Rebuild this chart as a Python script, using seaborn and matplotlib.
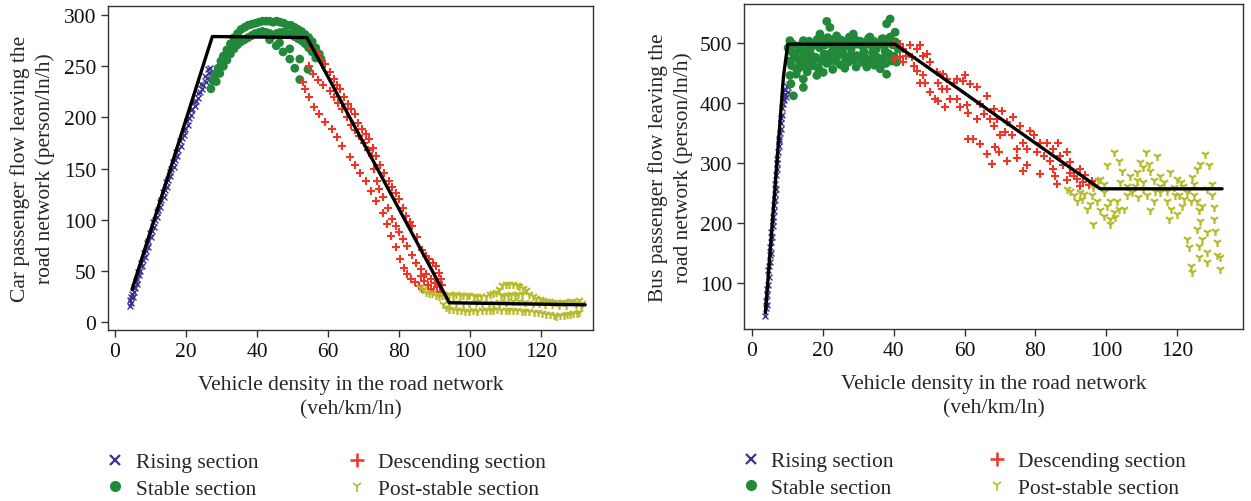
import matplotlib
matplotlib.use("Agg")
import matplotlib.pyplot as plt
from matplotlib.lines import Line2D
import seaborn as sns
import pandas as pd

# ---------------- Car panel data ----------------
car_rise_x = [4.1, 4.3, 4.5, 4.6, 4.8, 5.0, 5.3, 5.4, 5.6, 5.9, 6.1, 6.3, 6.6, 6.8, 7.0, 7.4, 7.6,
              7.8, 8.2, 8.4, 8.6, 9.0, 9.2, 9.4, 9.9, 10.1, 10.3, 10.8, 11.0, 11.2, 11.7, 11.9,
              12.1, 12.6, 12.8, 13.0, 13.5, 13.7, 14.0, 14.4, 14.6, 14.9, 15.4, 15.6, 15.9,
              16.3, 16.5, 16.8, 17.3, 17.5, 17.8, 18.3, 18.5, 18.8, 19.3, 19.5, 19.8, 20.3,
              20.5, 20.8, 21.3, 21.5, 21.8, 22.3, 22.5, 22.8, 23.3, 23.5, 23.8, 24.3, 24.5,
              24.8, 25.3, 25.5, 25.8, 26.3, 26.5, 26.8]
car_rise_y = [16, 22, 19, 25, 28, 25, 34, 30, 33, 40, 37, 42, 49, 46, 50, 58, 55, 61, 68, 64, 70,
              77, 73, 79, 87, 83, 89, 98, 93, 100, 108, 103, 110, 117, 113, 119, 127, 122, 129,
              137, 132, 139, 147, 143, 150, 156, 152, 158, 166, 162, 168, 177, 172, 180, 187,
              183, 189, 197, 193, 199, 207, 202, 208, 215, 211, 216, 224, 219, 225, 233, 228,
              232, 240, 235, 239, 247, 243, 248]

car_stable_x = [27.0, 27.5, 28.2, 29.0, 29.8, 30.5, 31.5, 32.5, 33.5, 34.5, 35.5, 36.5, 37.5,
                38.5, 39.5, 40.5, 41.5, 42.5, 43.5, 44.5, 45.5, 46.5, 47.5, 48.5, 49.5, 50.5,
                51.5, 52.5, 53.5, 54.5, 55.5, 56.5, 57.5, 58.0,
                28.5, 29.5, 30.5, 31.5, 32.5, 33.5, 34.5, 35.5, 36.5, 37.5, 38.5, 39.5, 40.5,
                41.5, 42.5, 43.5, 44.5, 45.5, 46.5, 47.5, 48.5, 49.5, 50.5, 51.5, 52.5, 53.5,
                54.5, 55.5, 56.5,
                43.5, 45.4, 47.3, 49.2, 50.6, 52.0, 46.3, 49.2, 52.0, 54.3]
car_stable_y = [228, 236, 242, 248, 255, 260, 266, 272, 278, 282, 286, 288, 290, 291, 292, 293,
                294, 294, 294, 293, 294, 293, 292, 290, 290, 288, 286, 284, 281, 278, 274, 268,
                262, 257,
                235, 243, 250, 256, 262, 267, 271, 274, 276, 278, 280, 282, 283, 284, 283, 282,
                280, 282, 283, 283, 282, 281, 279, 277, 275, 272, 268, 264, 258,
                276, 270, 264, 257, 248, 237, 273, 267, 257, 247]

car_desc_x = [55.5, 57.0, 58.0, 59.0, 60.5, 61.5, 62.5, 63.2, 64.5, 65.5, 66.5, 67.4, 68.5,
              69.5, 70.5, 71.6, 72.5, 73.5, 74.5, 75.8, 77.0, 78.0, 79.0, 80.0, 81.0, 82.0,
              83.0, 83.7, 85.0, 86.5, 87.5, 88.5, 89.5, 90.4, 91.2, 91.8,
              54.5, 55.6, 57.0, 58.5, 60.4, 61.5, 62.7, 64.0, 65.3, 66.5, 67.6, 68.8, 70.0,
              71.2, 72.2, 73.0, 73.8, 74.4, 75.5, 76.8, 78.0, 79.0, 80.0, 81.0, 82.2, 83.5,
              84.8, 86.0, 87.5, 89.0, 90.0,
              52.8, 53.4, 54.5, 56.0, 57.5, 59.0, 61.0, 62.5, 64.0, 66.0, 67.5, 69.0, 70.7,
              72.0, 73.5, 75.3, 76.5, 77.8, 79.0, 80.2, 81.3, 82.3, 83.3, 84.3, 85.5, 86.5,
              86.0, 87.0, 88.0, 88.8, 89.5, 90.5, 91.5, 92.0]
car_desc_y = [268, 262, 256, 252, 244, 238, 232, 228, 220, 213, 208, 203, 195, 189, 184, 179,
              170, 162, 154, 146, 138, 132, 126, 120, 112, 104, 98, 94, 83, 71, 65, 62, 58,
              55, 48, 42,
              250, 242, 237, 232, 226, 220, 214, 208, 200, 193, 188, 182, 175, 168, 162, 150,
              138, 130, 122, 112, 101, 94, 88, 81, 74, 66, 58, 52, 47, 42, 38,
              235, 228, 220, 210, 203, 196, 189, 181, 172, 161, 154, 146, 138, 128, 118, 107,
              96, 84, 73, 62, 53, 47, 42, 39, 35, 32,
              45, 40, 36, 32, 30, 34, 30, 36]

car_post_x = [85.7, 86.6, 87.6, 88.5, 89.3, 90.2, 91.3, 92.0, 93.0, 94.1, 95.0, 96.0, 97.0,
              98.0, 99.0, 99.7, 101.0, 102.0, 103.0, 104.4, 105.5, 106.5, 107.3, 108.1,
              109.0, 110.0, 111.0, 112.0, 113.0, 113.8, 114.8, 115.7, 116.6, 117.5, 118.5,
              119.5, 120.4, 121.3, 122.2, 123.2, 124.2, 125.0, 126.0, 127.0, 128.0, 128.7,
              129.6, 130.5, 131.5,
              92.2, 93.1, 94.1, 95.1, 96.2, 97.3, 98.4, 99.7, 100.8, 102.0, 103.2, 104.4,
              105.5, 106.3, 107.5, 108.7, 110.0, 111.0, 112.0, 113.2, 114.4, 115.5, 116.6,
              117.8, 119.0, 120.2, 121.3, 122.4, 123.5, 124.2, 125.3, 126.4, 127.2, 128.0,
              129.0, 130.0, 130.7,
              94.1, 96.0, 97.8, 99.7, 101.5, 103.4, 105.2, 106.3, 108.0, 110.0, 112.0,
              113.6, 115.4, 117.5, 119.2, 121.0, 123.0, 125.0, 127.0, 129.6, 131.2,
              108.5, 109.5, 110.5, 111.5, 112.5, 113.5, 114.5]
car_post_y = [34, 32, 30, 29, 29, 27, 26, 27, 27, 28, 27, 28, 27, 27, 27, 27, 26, 26, 26, 26,
              28, 29, 30, 32, 36, 37, 37, 37, 36, 35, 33, 31, 28, 26, 24, 23, 22, 21, 21, 20,
              20, 19, 20, 20, 21, 21, 20, 22, 19,
              18, 15, 13, 13, 12, 12, 11, 11, 12, 11, 12, 12, 12, 12, 13, 12, 12, 12, 12, 12,
              11, 11, 11, 10, 10, 9, 8, 8, 7, 6, 7, 7, 8, 8, 9, 9, 10,
              19, 20, 19, 19, 20, 19, 19, 19, 20, 20, 21, 21, 20, 19, 19, 18, 18, 17, 17, 18, 17,
              27, 26, 27, 28, 27, 28, 28]

car_fit_x = [4.8, 27.4, 54.0, 94.1, 132.3]
car_fit_y = [32, 279, 278, 19, 17]

# ---------------- Bus panel data ----------------
bus_rise_x = [3.7, 3.9, 4.0, 4.2, 4.3, 4.1, 4.5, 4.7, 4.6, 4.9, 5.1, 5.0, 5.3, 5.2, 5.5, 5.6,
              5.4, 5.8, 5.9, 6.0, 6.2, 6.1, 6.4, 6.5, 6.7, 6.6, 6.9, 7.0, 7.2, 7.1, 7.4, 7.6,
              7.7, 7.5, 7.9, 8.1, 8.3, 8.2, 8.5, 8.6, 8.8, 8.7, 9.0, 9.2, 9.4, 9.7, 9.9, 10.2,
              10.4]
bus_rise_y = [45, 58, 70, 64, 80, 90, 97, 110, 122, 129, 135, 146, 150, 160, 168, 176, 185,
              195, 203, 210, 220, 230, 238, 248, 257, 265, 280, 290, 300, 306, 318, 328, 340,
              336, 350, 356, 366, 375, 380, 392, 398, 408, 405, 415, 422, 410, 428, 418, 432]

bus_stable_x = [21.1, 22.0, 38.0, 39.0, 40.4, 19.2, 23.9, 28.6, 33.3, 37.1, 10.7, 14.5,
                10.7, 14.5, 11.7, 14.5, 18.3, 20.1, 27.7, 32.4, 36.2, 38.0, 35.2, 29.6,
                10.2, 10.9, 11.5, 12.3, 13.0, 13.8, 14.6, 15.3, 16.1, 16.9, 17.6, 18.4, 19.1,
                19.9, 20.7, 21.4, 22.2, 23.0, 23.7, 24.5, 25.2, 26.0, 26.8, 27.5, 28.3, 29.1,
                29.8, 30.6, 31.3, 32.1, 32.9, 33.6, 34.4, 35.1, 35.9, 36.7, 37.4, 38.2, 39.0,
                39.7, 40.5, 41.3,
                10.4, 11.2, 12.0, 12.7, 13.5, 14.2, 15.0, 15.8, 16.5, 17.3, 18.0, 18.8, 19.6,
                20.3, 21.1, 21.8, 22.6, 23.4, 24.1, 24.9, 25.6, 26.4, 27.2, 27.9, 28.7, 29.4,
                30.2, 31.0, 31.7, 32.5, 33.2, 34.0, 34.8, 35.5, 36.3, 37.0, 37.8, 38.6, 39.3,
                40.1, 40.8,
                11.0, 12.5, 13.2, 15.6, 17.0, 18.9, 21.5, 24.4, 26.2, 30.8, 34.6, 37.6, 39.5,
                12.0, 16.2, 22.8, 25.5, 31.6, 13.6, 17.8, 20.5, 28.0]
bus_stable_y = [536, 526, 532, 540, 518, 515, 512, 515, 510, 507, 504, 504,
                446, 440, 412, 426, 446, 451, 473, 460, 457, 448, 468, 479,
                492, 486, 498, 483, 495, 489, 500, 486, 503, 494, 499, 506, 492, 505, 497,
                509, 500, 494, 508, 499, 505, 496, 502, 510, 499, 506, 498, 503, 494, 501,
                508, 496, 503, 490, 499, 507, 495, 503, 510, 497, 502, 490,
                470, 462, 478, 455, 468, 475, 460, 472, 482, 465, 476, 458, 470, 481, 466,
                474, 486, 470, 478, 464, 484, 474, 468, 480, 472, 460, 476, 468, 478, 462,
                472, 484, 470, 476, 462, 474, 466, 482, 470, 478, 468,
                432, 448, 458, 452, 462, 455, 468, 488, 458, 478, 463, 486, 472,
                475, 490, 456, 490, 486, 465, 476, 482, 490]

bus_desc_x = [41.8, 44.6, 47.5, 49.3, 40.0, 42.7, 45.6, 46.5, 50.3, 48.4, 47.5, 50.3, 52.2,
              54.0, 55.0, 56.9, 57.8, 52.6, 54.5, 60.2, 61.6, 58.7, 60.6, 61.1, 63.5, 66.3,
              64.4, 65.4, 63.5, 68.2, 70.5, 69.1, 67.2, 68.2, 72.0, 73.8, 71.5, 73.4, 70.0,
              75.7, 78.5, 79.5, 76.6, 74.8, 77.6, 81.4, 83.2, 86.5, 80.4, 85.1, 82.3, 84.2,
              87.0, 88.9, 89.8, 87.9, 85.1, 85.6, 81.4, 77.6, 76.6, 74.8, 91.7, 90.8, 88.9,
              89.8, 92.6, 86.0,
              61.1, 62.5, 64.4, 66.3, 67.7, 68.6, 72.0, 69.7,
              40.0, 42.7, 46.5, 48.4, 43.6, 41.8, 45.1, 52.6, 55.0, 57.8, 59.7, 48.9, 51.7,
              55.9, 53.5,
              93.5, 95.0, 96.0, 94.0, 92.5, 96.5]
bus_desc_y = [498, 496, 496, 482, 473, 468, 462, 454, 468, 446, 434, 418, 451, 448, 423, 434,
              407, 404, 393, 446, 432, 393, 396, 384, 426, 412, 398, 382, 373, 390, 387, 373,
              373, 362, 368, 376, 351, 346, 346, 362, 354, 346, 334, 323, 323, 334, 334, 334,
              318, 323, 312, 304, 312, 318, 301, 296, 290, 279, 282, 296, 287, 309, 273, 279,
              271, 284, 262, 265,
              340, 340, 332, 315, 298, 326, 304, 318,
              498, 490, 490, 479, 479, 476, 476, 434, 440, 440, 437, 434, 407, 407, 423,
              268, 264, 270, 280, 290, 262]

bus_post_x = [89.8, 92.6, 93.1, 94.6, 96.4, 95.9, 97.3, 98.3, 99.3, 100.2, 101.1, 102.1,
              103.0, 102.5, 100.2, 102.1, 103.5, 104.4, 105.8, 104.9, 106.8, 108.2, 108.7,
              109.6, 110.5, 112.0, 112.4, 111.1, 114.3, 113.4, 110.5, 115.3, 113.4, 112.4,
              116.3, 117.2, 118.2, 117.7, 119.5, 120.0, 121.0, 121.4, 122.8, 123.8, 124.7,
              125.7, 126.6, 128.0, 128.9, 126.2, 126.6, 125.7, 122.8, 123.3, 126.2, 128.5,
              127.1, 126.2, 123.8, 124.2, 128.5, 131.3, 132.2, 128.5, 130.8, 130.3, 130.3,
              129.9, 132.0, 131.3,
              103.9, 105.8, 107.3, 109.1, 111.5, 113.8, 115.3, 117.2, 119.0, 120.4, 121.9,
              123.3, 124.7, 125.7, 127.0, 128.5, 129.9, 108.7, 110.5, 115.3, 118.1, 120.0,
              121.8, 124.2,
              90.8, 91.7, 93.6, 95.5, 98.3, 99.3, 101.1, 103.5, 96.4, 97.8, 101.1, 88.9,
              99.3]
bus_post_y = [254, 251, 240, 223, 198, 246, 237, 273, 251, 229, 198, 218, 237, 210, 296, 318,
              304, 287, 246, 223, 279, 262, 285, 301, 293, 298, 287, 318, 312, 271, 257, 251,
              237, 221, 268, 237, 223, 207, 246, 215, 268, 229, 251, 237, 265, 290, 298, 315,
              296, 221, 204, 190, 173, 160, 162, 185, 173, 143, 129, 118, 135, 146, 143, 151,
              187, 207, 226, 246, 123, 168,
              268, 262, 251, 243, 246, 254, 262, 254, 260, 246, 240, 257, 246, 237, 229, 257,
              265, 271, 268, 279, 285, 273, 262, 276,
              246, 237, 248, 232, 221, 212, 207, 223, 260, 271, 237, 257, 265]

bus_fit_x = [3.8, 8.9, 10.1, 40.4, 98.3, 132.7]
bus_fit_y = [50, 445, 498, 498, 257, 257]

# ---------------- Styling ----------------
sections = ["Rising section", "Stable section", "Descending section", "Post-stable section"]
colors = {"Rising section": "#3b3293", "Stable section": "#23893a",
          "Descending section": "#ee3526", "Post-stable section": "#b6bb2c"}

FS = 15.5

sns.set_style("ticks")
plt.rcParams["font.family"] = ["Liberation Serif", "DejaVu Serif"]
plt.rcParams["font.size"] = FS
plt.rcParams["axes.edgecolor"] = "#333333"
plt.rcParams["xtick.color"] = "#333333"
plt.rcParams["ytick.color"] = "#333333"
plt.rcParams["xtick.labelcolor"] = "#111111"
plt.rcParams["ytick.labelcolor"] = "#111111"

fig = plt.figure(figsize=(12.51, 5.02), dpi=100)
ax1 = fig.add_axes([0.0863, 0.3406, 0.3877, 0.6454])
ax2 = fig.add_axes([0.5947, 0.3426, 0.3989, 0.6474])


def draw_panel(ax, data, fit_x, fit_y):
    for sec, (xs, ys) in data.items():
        df = pd.DataFrame({"x": xs, "y": ys})
        c = colors[sec]
        if sec == "Rising section":
            sns.scatterplot(data=df, x="x", y="y", ax=ax, marker="x", color=c, s=18,
                            linewidth=1.0, zorder=2)
        elif sec == "Stable section":
            sns.scatterplot(data=df, x="x", y="y", ax=ax, marker="o", color=c, s=40,
                            edgecolor="none", zorder=2)
        elif sec == "Descending section":
            sns.scatterplot(data=df, x="x", y="y", ax=ax, marker="+", color=c, s=32,
                            linewidth=1.5, zorder=2)
        else:
            sns.scatterplot(data=df, x="x", y="y", ax=ax, marker="1", color=c, s=42,
                            linewidth=1.6, zorder=2)
    sns.lineplot(x=fit_x, y=fit_y, ax=ax, color="black", linewidth=2.4, sort=False,
                 estimator=None, zorder=3)
    for s in ax.spines.values():
        s.set_visible(True)
        s.set_linewidth(1.0)
    ax.tick_params(axis="both", direction="out", length=5, width=1.0, labelsize=FS,
                   top=False, right=False)
    ax.set_xticks([0, 20, 40, 60, 80, 100, 120])


car_data = {
    "Rising section": (car_rise_x, car_rise_y),
    "Stable section": (car_stable_x, car_stable_y),
    "Descending section": (car_desc_x, car_desc_y),
    "Post-stable section": (car_post_x, car_post_y),
}
bus_data = {
    "Rising section": (bus_rise_x, bus_rise_y),
    "Stable section": (bus_stable_x, bus_stable_y),
    "Descending section": (bus_desc_x, bus_desc_y),
    "Post-stable section": (bus_post_x, bus_post_y),
}

XLABEL = "Vehicle density in the road network\n(veh/km/ln)"

draw_panel(ax1, car_data, car_fit_x, car_fit_y)
ax1.set_xlim(-1.97, 134.5)
ax1.set_ylim(-7.6, 308.8)
ax1.set_yticks([0, 50, 100, 150, 200, 250, 300])
ax1.set_ylabel("Car passenger flow leaving the\nroad network (person/ln/h)", fontsize=FS,
               linespacing=1.35, labelpad=6)
ax1.set_xlabel(XLABEL, fontsize=FS, linespacing=1.4, labelpad=10)

draw_panel(ax2, bus_data, bus_fit_x, bus_fit_y)
ax2.set_xlim(-2.26, 138.6)
ax2.set_ylim(23.3, 565)
ax2.set_yticks([100, 200, 300, 400, 500])
ax2.set_ylabel("Bus passenger flow leaving the\nroad network (person/ln/h)", fontsize=FS,
               linespacing=1.35, labelpad=5)
ax2.set_xlabel(XLABEL, fontsize=FS, linespacing=1.4, labelpad=10)


def add_legend(ax, colspace):
    handles = [
        Line2D([], [], linestyle="none", marker="x", color=colors["Rising section"],
               markersize=7, markeredgewidth=1.6),
        Line2D([], [], linestyle="none", marker="o", color=colors["Stable section"],
               markersize=8, markeredgewidth=0),
        Line2D([], [], linestyle="none", marker="+", color=colors["Descending section"],
               markersize=10, markeredgewidth=1.8),
        Line2D([], [], linestyle="none", marker="1", color=colors["Post-stable section"],
               markersize=8, markeredgewidth=1.2),
    ]
    ax.legend(handles, sections, ncol=2, loc="upper left", bbox_to_anchor=(-0.025, -0.35),
              frameon=False, fontsize=FS, handlelength=1.0, handletextpad=0.45,
              columnspacing=colspace, labelspacing=0.3, borderaxespad=0)


add_legend(ax1, 4.1)
add_legend(ax2, 4.3)

fig.savefig("out.png", dpi=100)
